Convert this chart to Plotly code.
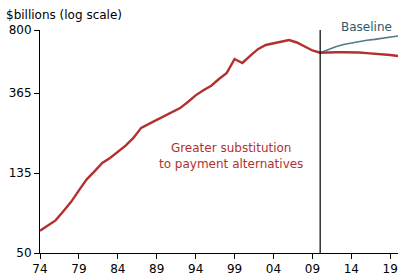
import math
import plotly.graph_objects as go

years = list(range(1974, 2011))
red_hist = [66, 70, 75, 84, 94.5, 109, 125, 138, 153, 163, 176, 190, 209, 237, 249,
            262, 274, 289, 303, 327, 355, 378, 400, 435, 469, 558, 531, 580, 630,
            664, 678, 690, 706, 685, 655, 620, 603]
proj_years = list(range(2010, 2021))
red_proj = [603, 607, 607, 607, 607, 605, 600, 597, 592, 586, 579]
baseline = [603, 628, 650, 668, 681, 693, 704, 712, 722, 732, 742]

tick_years = [1974, 1979, 1984, 1989, 1994, 1999, 2004, 2009, 2014, 2019]
tick_text = ["74", "79", "84", "89", "94", "99", "04", "09", "14", "19"]
y_ticks = [50, 135, 365, 800]

RED = "#b3302e"
BLUE_LINE = "#557a89"
BLUE_TEXT = "#2c5a6d"
FONT = "DejaVu Sans"

fig = go.Figure()
fig.add_trace(go.Scatter(x=proj_years, y=baseline, mode="lines",
                         line=dict(color=BLUE_LINE, width=1.6), hoverinfo="skip"))
fig.add_trace(go.Scatter(x=years, y=red_hist, mode="lines",
                         line=dict(color=RED, width=2.4), hoverinfo="skip"))
fig.add_trace(go.Scatter(x=proj_years, y=red_proj, mode="lines",
                         line=dict(color=RED, width=2.4), hoverinfo="skip"))

fig.add_shape(type="line", x0=2010, x1=2010, xref="x", y0=0, y1=1, yref="paper",
              line=dict(color="black", width=1.2))

fig.add_annotation(x=2015.9, y=1, xref="x", yref="paper", yanchor="middle", yshift=3,
                   text="Baseline", showarrow=False,
                   font=dict(family=FONT, size=12, color=BLUE_TEXT))
fig.add_annotation(x=1998.5, y=math.log10(166), xref="x", yref="y",
                   text="Greater substitution<br>to payment alternatives",
                   showarrow=False, align="center",
                   font=dict(family=FONT, size=12, color=RED))
fig.add_annotation(x=0, y=1, xref="paper", yref="paper", text="$billions (log scale)",
                   showarrow=False, xanchor="left", yanchor="bottom",
                   xshift=-36, yshift=6,
                   font=dict(family=FONT, size=12, color="black"))

fig.update_xaxes(range=[1974, 2020], tickmode="array", tickvals=tick_years,
                 ticktext=tick_text, ticks="outside", ticklen=5, tickcolor="black",
                 showline=True, linecolor="black", linewidth=1, showgrid=False,
                 zeroline=False, automargin=False,
                 tickfont=dict(family=FONT, size=12, color="black"))
fig.update_yaxes(type="log", range=[1.69897, 2.90309], tickmode="array",
                 tickvals=y_ticks, ticktext=[str(v) for v in y_ticks],
                 ticks="outside", ticklen=5, tickcolor="black",
                 showline=True, linecolor="black", linewidth=1, showgrid=False,
                 zeroline=False, automargin=False,
                 tickfont=dict(family=FONT, size=12, color="black"))

fig.update_layout(width=420, height=280, showlegend=False,
                  margin=dict(l=40, r=22, t=30, b=27),
                  plot_bgcolor="white", paper_bgcolor="white",
                  font=dict(family=FONT))

fig.write_html("out.html")
